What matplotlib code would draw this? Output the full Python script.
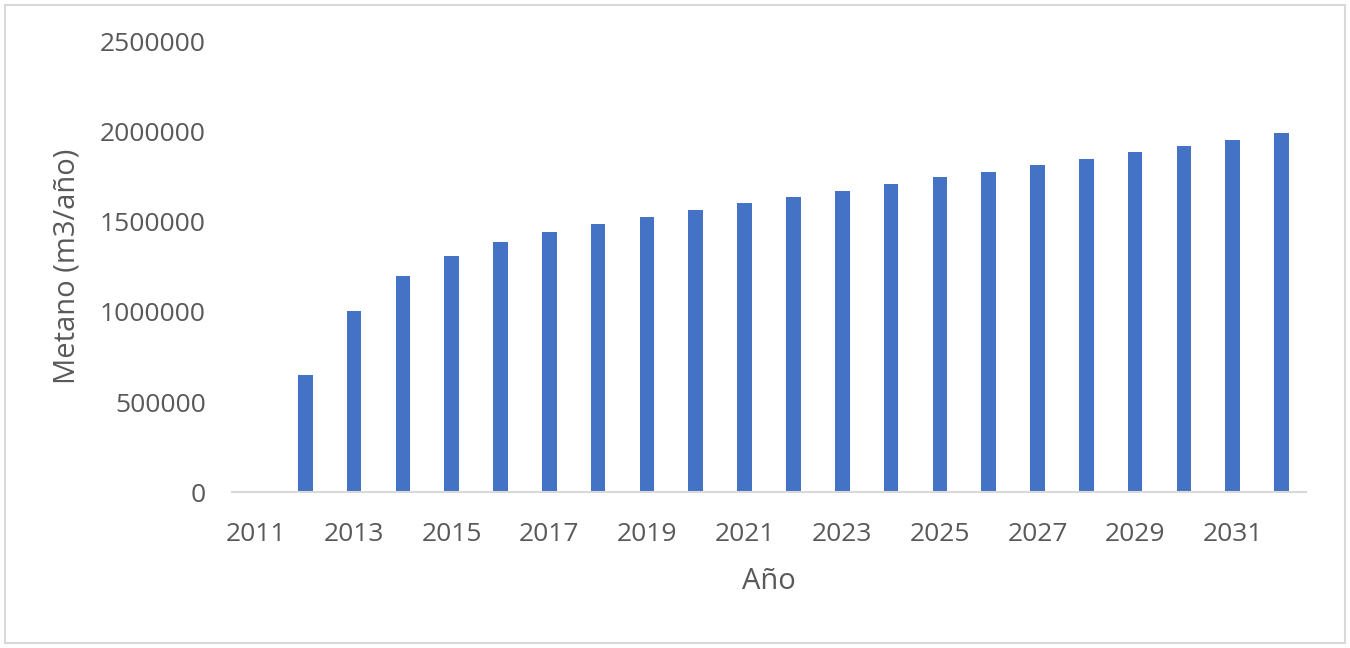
import matplotlib.pyplot as plt
from matplotlib.patches import Rectangle

# años y producción de metano (m3/año)
years = list(range(2011, 2033))
metano = [0, 653000, 1004000, 1198000, 1311000, 1385000, 1440000, 1487000,
          1527000, 1564000, 1601000, 1638000, 1671000, 1708000, 1745000,
          1777000, 1814000, 1847000, 1884000, 1921000, 1952000, 1989000]
y_ticks = [0, 500000, 1000000, 1500000, 2000000, 2500000]

plt.rcParams['font.family'] = ['Open Sans', 'DejaVu Sans']
gray = '#595959'

fig = plt.figure(figsize=(13.5, 6.48), dpi=100)
ax = fig.add_axes([0.1719, 0.24, 0.7955, 0.6967])

x = list(range(len(years)))
ax.bar(x, metano, width=0.3, color='#4472C4')

ax.set_xlim(-0.5, len(years) - 0.5)
ax.set_ylim(0, 2500000)
ax.set_yticks(y_ticks)
ax.set_yticklabels([str(v) for v in y_ticks])
ax.set_xticks(x[::2])
ax.set_xticklabels([str(y) for y in years[::2]])

for s in ['top', 'right', 'left']:
    ax.spines[s].set_visible(False)
ax.spines['bottom'].set_color('#D9D9D9')
ax.spines['bottom'].set_linewidth(1.5)
ax.tick_params(axis='both', length=0, labelsize=19, labelcolor=gray)
ax.tick_params(axis='y', pad=19)
ax.tick_params(axis='x', pad=21)

ax.set_ylabel('Metano (m3/año)', fontsize=21, color=gray, labelpad=13)
ax.set_xlabel('Año', fontsize=21, color=gray, labelpad=15)

# marco del gráfico
fig.patches.append(Rectangle((0.004, 0.007), 0.992, 0.986, transform=fig.transFigure,
                             fill=False, edgecolor='#D9D9D9', linewidth=1.5))

fig.savefig('out.png', dpi=100)
